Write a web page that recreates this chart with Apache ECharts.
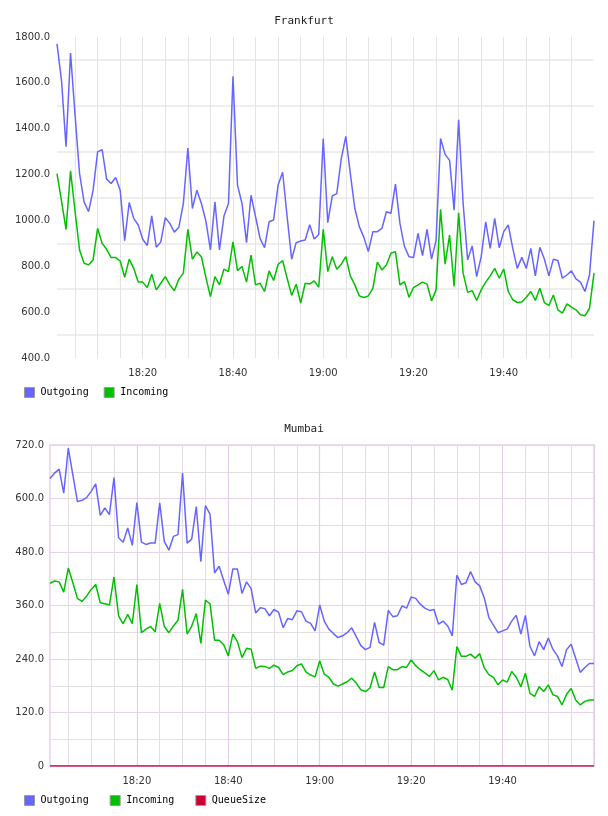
<!DOCTYPE html>
<html>
<head>
<meta charset="utf-8">
<script src="https://cdn.jsdelivr.net/npm/echarts@6/dist/echarts.min.js"></script>
<style>
  * { margin: 0; padding: 0; }
  body { width: 608px; height: 816px; background: #fff; }
  .box { width: 608px; height: 408px; }
</style>
</head>
<body>
<div id="frankfurt" class="box"></div>
<div id="mumbai" class="box"></div>
<script>
// 18:01 .. 20:00, one point a minute
var startMinute = 18 * 60 + 1;
var pointCount = 120;

var fraOutgoing = [
  1770, 1610, 1322, 1730, 1460, 1204, 1081, 1038, 1132, 1299,
  1309, 1180, 1161, 1187, 1132, 912, 1078, 1009, 980, 918,
  890, 1020, 883, 906, 1012, 987, 949, 970, 1074, 1316,
  1052, 1132, 1074, 997, 871, 1081, 871, 1019, 1074, 1629,
  1154, 1074, 903, 1110, 1016, 922, 881, 994, 1002, 1154,
  1210, 1016, 831, 903, 910, 915, 981, 919, 939, 1357,
  990, 1107, 1117, 1270, 1367, 1204, 1052, 973, 926, 864,
  951, 951, 965, 1038, 1031, 1158, 987, 886, 842, 838,
  944, 847, 961, 831, 912, 1357, 1288, 1262, 1045, 1439,
  1074, 828, 889, 755, 842, 994, 878, 1009, 881, 951,
  980, 878, 791, 839, 791, 878, 758, 883, 832, 758,
  831, 825, 748, 762, 780, 745, 731, 690, 762, 999
];
var fraIncoming = [
  1204, 1085, 961, 1216, 1040, 871, 813, 806, 828, 965,
  900, 874, 838, 838, 823, 752, 831, 791, 731, 731,
  707, 765, 697, 726, 755, 719, 693, 744, 770, 961,
  831, 862, 842, 751, 668, 755, 719, 788, 777, 906,
  781, 799, 731, 849, 719, 726, 690, 780, 738, 809,
  825, 748, 673, 722, 639, 726, 723, 736, 709, 961,
  777, 842, 787, 809, 842, 758, 719, 671, 664, 671,
  704, 818, 784, 806, 857, 864, 719, 733, 665, 707,
  719, 731, 722, 649, 697, 1049, 809, 936, 712, 1033,
  770, 686, 694, 651, 697, 731, 758, 791, 748, 788,
  690, 654, 642, 644, 665, 690, 651, 704, 642, 629,
  675, 610, 596, 636, 622, 610, 589, 584, 617, 770
];

var mumOutgoing = [
  645, 657, 666, 612, 713, 653, 593, 596, 602, 616,
  633, 562, 579, 564, 647, 512, 502, 534, 495, 591,
  502, 497, 500, 500, 590, 504, 484, 515, 519, 657,
  500, 509, 582, 458, 584, 565, 433, 448, 416, 385,
  442, 442, 387, 413, 398, 343, 355, 353, 337, 351,
  345, 310, 331, 328, 348, 346, 325, 320, 303, 361,
  325, 307, 297, 288, 292, 299, 310, 290, 270, 261,
  266, 322, 277, 271, 349, 335, 337, 359, 354, 379,
  376, 363, 354, 349, 351, 318, 325, 314, 292, 428,
  407, 411, 436, 413, 404, 377, 333, 316, 299, 303,
  307, 325, 338, 296, 338, 268, 247, 279, 261, 287,
  262, 247, 223, 261, 273, 241, 210, 221, 230, 230
];
var mumIncoming = [
  410, 415, 413, 390, 444, 411, 376, 369, 381, 396,
  407, 366, 364, 361, 424, 337, 319, 340, 319, 407,
  299, 307, 313, 301, 365, 313, 299, 314, 327, 396,
  296, 314, 342, 275, 372, 364, 282, 282, 272, 247,
  296, 279, 243, 264, 262, 219, 224, 223, 219, 226,
  221, 205, 211, 214, 225, 229, 211, 204, 200, 236,
  206, 199, 184, 179, 184, 189, 197, 186, 171, 167,
  175, 211, 176, 176, 223, 216, 216, 223, 221, 238,
  225, 216, 209, 201, 214, 193, 199, 194, 170, 268,
  246, 246, 251, 242, 252, 220, 205, 199, 182, 193,
  188, 212, 199, 178, 208, 163, 156, 178, 167, 182,
  160, 156, 137, 161, 174, 148, 137, 145, 148, 148
];
var mumQueueSize = [
  0, 0, 0, 0, 0, 0, 0, 0, 0, 0,
  0, 0, 0, 0, 0, 0, 0, 0, 0, 0,
  0, 0, 0, 0, 0, 0, 0, 0, 0, 0,
  0, 0, 0, 0, 0, 0, 0, 0, 0, 0,
  0, 0, 0, 0, 0, 0, 0, 0, 0, 0,
  0, 0, 0, 0, 0, 0, 0, 0, 0, 0,
  0, 0, 0, 0, 0, 0, 0, 0, 0, 0,
  0, 0, 0, 0, 0, 0, 0, 0, 0, 0,
  0, 0, 0, 0, 0, 0, 0, 0, 0, 0,
  0, 0, 0, 0, 0, 0, 0, 0, 0, 0,
  0, 0, 0, 0, 0, 0, 0, 0, 0, 0,
  0, 0, 0, 0, 0, 0, 0, 0, 0, 0
];

var fraTicks = [400, 1800, 200];   // min, max, step
var mumTicks = [0, 720, 120];

var colOut = '#6666ff';
var colIn = '#00c000';
var colQueue = '#cc0033';

var times = [];
for (var m = startMinute; m < startMinute + pointCount; m++) {
  var h = Math.floor(m / 60), mm = m % 60;
  times.push(h + ':' + (mm < 10 ? '0' : '') + mm);
}
function minuteOf(label) { return parseInt(label.split(':')[1], 10); }
// labels every 20 minutes, not at the right edge
function labelAt(i, v) { return minuteOf(v) % 20 === 0 && i < times.length - 1; }

var monoFont = 'DejaVu Sans Mono';
var sansFont = 'DejaVu Sans';

function lineSeries(name, data, color, xIdx) {
  return {
    name: name,
    type: 'line',
    data: data,
    xAxisIndex: xIdx || 0,
    symbol: 'none',
    color: color,
    lineStyle: { color: color, width: 1.5 },
    animation: false
  };
}

function legendCfg(names, top, gap) {
  return {
    data: names,
    left: 24,
    top: top,
    padding: 0,
    icon: 'rect',
    itemWidth: 10,
    itemHeight: 10,
    itemGap: gap,
    itemStyle: { borderColor: '#999', borderWidth: 1 },
    textStyle: { fontFamily: monoFont, fontSize: 10, color: '#000', padding: [0, 0, 0, 1] }
  };
}

function titleCfg(text) {
  return {
    text: text,
    left: 'center',
    top: 11,
    textStyle: { fontFamily: monoFont, fontSize: 11, fontWeight: 'normal', color: '#222' }
  };
}

// Frankfurt
var fra = echarts.init(document.getElementById('frankfurt'));
fra.setOption({
  animation: false,
  title: titleCfg('Frankfurt'),
  legend: legendCfg(['Outgoing', 'Incoming'], 387, 15),
  grid: { left: 57, right: 14, top: 37, bottom: 50 },
  xAxis: {
    type: 'category',
    data: times,
    boundaryGap: false,
    axisLine: { show: false },
    axisTick: { show: false },
    axisLabel: {
      interval: labelAt,
      margin: 10,
      fontFamily: sansFont, fontSize: 10, color: '#333'
    },
    splitLine: {
      show: true,
      interval: function (i, v) { return minuteOf(v) % 5 === 0 && i < times.length - 1; },
      lineStyle: { color: '#e4e4e4', width: 1 }
    }
  },
  yAxis: {
    type: 'value',
    min: fraTicks[0], max: fraTicks[1], interval: fraTicks[2],
    axisLine: { show: false },
    axisTick: { show: false },
    axisLabel: {
      formatter: function (v) { return v.toFixed(1); },
      margin: 7,
      fontFamily: sansFont, fontSize: 10, color: '#333'
    },
    splitLine: { show: false },
    minorTick: { show: false, splitNumber: 2 },
    minorSplitLine: { show: true, lineStyle: { color: '#eeeeee', width: 2 } }
  },
  series: [
    lineSeries('Outgoing', fraOutgoing, colOut),
    lineSeries('Incoming', fraIncoming, colIn)
  ]
});

// Mumbai
var mum = echarts.init(document.getElementById('mumbai'));
mum.setOption({
  animation: false,
  title: titleCfg('Mumbai'),
  legend: legendCfg(['Outgoing', 'Incoming', 'QueueSize'], 387, 21),
  grid: { left: 50, right: 14, top: 37, bottom: 50, show: true, borderColor: '#eedcef', borderWidth: 2 },
  xAxis: [{
    type: 'category',
    data: times,
    boundaryGap: false,
    axisLine: { show: false },
    axisTick: { show: false },
    axisLabel: {
      interval: labelAt,
      margin: 10,
      fontFamily: sansFont, fontSize: 10, color: '#333'
    },
    splitLine: {
      show: true,
      interval: function (i, v) { return minuteOf(v) % 5 === 0 && minuteOf(v) % 20 !== 0; },
      lineStyle: { color: '#e3dde4', width: 1 }
    },
    z: 1
  }, {
    type: 'category',
    data: times,
    boundaryGap: false,
    show: true,
    axisLine: { show: false },
    axisTick: { show: false },
    axisLabel: { show: false },
    splitLine: {
      show: true,
      interval: function (i, v) { return minuteOf(v) % 20 === 0; },
      lineStyle: { color: '#e4cfe8', width: 1.2 }
    },
    z: 2
  }],
  yAxis: {
    type: 'value',
    min: mumTicks[0], max: mumTicks[1], interval: mumTicks[2],
    axisLine: { show: false },
    axisTick: { show: false },
    axisLabel: {
      formatter: function (v) { return v === 0 ? '0' : v.toFixed(1); },
      margin: 6,
      fontFamily: sansFont, fontSize: 10, color: '#333'
    },
    splitLine: { show: true, lineStyle: { color: '#e8d2ea', width: 1.2 } },
    minorTick: { show: false, splitNumber: 2 },
    minorSplitLine: { show: true, lineStyle: { color: '#e3dee4', width: 1 } }
  },
  series: [
    lineSeries('Outgoing', mumOutgoing, colOut),
    lineSeries('Incoming', mumIncoming, colIn),
    lineSeries('QueueSize', mumQueueSize, colQueue)
  ]
});
</script>
</body>
</html>
